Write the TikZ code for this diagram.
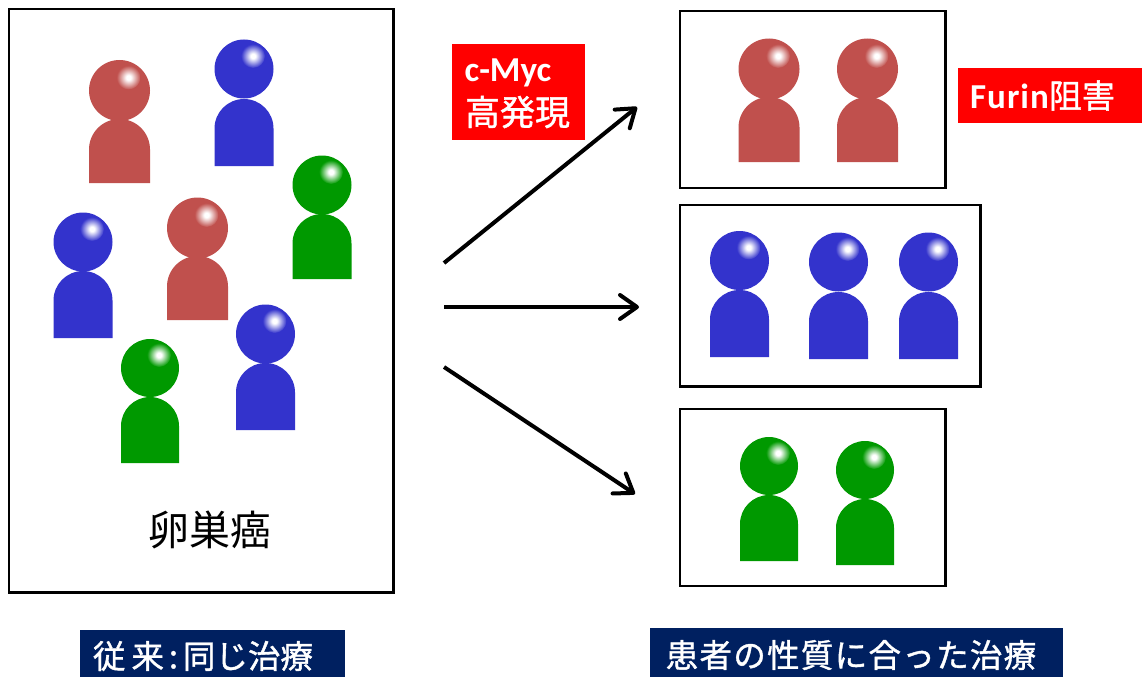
\documentclass[tikz,border=0pt]{standalone}
\usepackage{fontspec}
\setmainfont{Carlito}
\newfontfamily\jp{Noto Sans CJK JP}
\newfontfamily\jpm{Noto Sans CJK JP}[FakeBold=1.2]
\usetikzlibrary{arrows.meta}
\definecolor{pred}{HTML}{C0504D}
\definecolor{pblue}{HTML}{3333CC}
\definecolor{pgreen}{HTML}{009900}
\definecolor{navy}{HTML}{002060}
\definecolor{bred}{HTML}{FF0000}
\pgfdeclareradialshading{hlpred}{\pgfpointorigin}{color(0bp)=(white); color(5bp)=(white); color(25bp)=(pred); color(50bp)=(pred)}
\pgfdeclareradialshading{hlpblue}{\pgfpointorigin}{color(0bp)=(white); color(5bp)=(white); color(25bp)=(pblue); color(50bp)=(pblue)}
\pgfdeclareradialshading{hlpgreen}{\pgfpointorigin}{color(0bp)=(white); color(5bp)=(white); color(25bp)=(pgreen); color(50bp)=(pgreen)}
\tikzset{
  frame/.style={draw=black,line width=2.8pt,fill=white},
  flow/.style={draw=black,line width=4pt,-{Straight Barb[length=17pt,width=24pt,line width=4pt,round]}},
  redtag/.style={fill=bred,text=white,inner sep=0pt},
  navytag/.style={fill=navy,text=white,inner sep=0pt},
}
% cx, head cy, radius, body top, body bottom, half width, colour
\newcommand{\personfig}[7]{%
  \fill[#7] (#1,#2) circle[radius=#3];
  \shade[shading=hl#7] (#1+9,#2-13) circle[radius=12];
  \fill[#7] (#1-#6,#5) -- (#1-#6,#4+#6) arc[start angle=180,end angle=0,x radius=#6,y radius=-#6]
     -- (#1+#6,#5) -- cycle;
}
\begin{document}
\begin{tikzpicture}[x=1pt,y=-1pt]
\useasboundingbox (0,0) rectangle (1142,677);
\fill[white] (0,0) rectangle (1142,677);

\draw[frame] (9,9) rectangle (393.5,592.5);
\draw[frame] (680,11) rectangle (945.5,188);
\draw[frame] (680,205) rectangle (980.5,386.5);
\draw[frame] (680,409) rectangle (945.5,586);

\personfig{119.5}{90.5}{30.5}{119}{183}{30.5}{pred}
\personfig{244}{69}{29.5}{99}{166}{29.5}{pblue}
\personfig{322}{185}{29.5}{214}{279}{29.5}{pgreen}
\personfig{83}{242}{29.5}{271}{338}{29.5}{pblue}
\personfig{197.5}{228}{30.5}{256}{320}{30.5}{pred}
\personfig{265.5}{334}{29.5}{363}{430}{29.5}{pblue}
\personfig{150}{368}{29}{397}{463}{29}{pgreen}

\personfig{769}{69}{30.5}{97}{162}{30.5}{pred}
\personfig{867.5}{69}{30.5}{97}{162}{30.5}{pred}
\personfig{739.5}{260.5}{29.5}{290}{357}{29.5}{pblue}
\personfig{838.5}{262}{29.5}{292}{359}{29.5}{pblue}
\personfig{928.5}{262}{29.5}{292}{359}{29.5}{pblue}
\personfig{769}{466}{29}{495}{561}{29}{pgreen}
\personfig{865}{470}{29}{499}{565}{29}{pgreen}

\node[text=black,font=\jp\fontsize{41pt}{41pt}\selectfont] (ovary) at (210,530) {卵巣癌};

\node[redtag,minimum width=133pt,minimum height=96pt] (myc) at (518.5,92) {};
\node[text=white,font=\bfseries\fontsize{35pt}{35pt}\selectfont] (myct) at (508,73) {c-Myc};
\node[text=white,font=\jpm\fontsize{35pt}{35pt}\selectfont] (high) at (517.5,112) {高発現};

\node[redtag,minimum width=184pt,minimum height=55pt] (fur) at (1050,95.5) {};
\node[text=white,inner sep=0pt,font=\fontsize{35pt}{35pt}\selectfont] (furt) at (1042.5,95.5) {{\bfseries\addfontfeature{LetterSpace=3}Furin}{\jpm\fontsize{33pt}{33pt}\selectfont 阻害}};

\node[navytag,minimum width=265pt,minimum height=47pt] (left) at (212.5,653.5) {};
\node[text=white,font=\jpm\fontsize{32.5pt}{32.5pt}\selectfont] (leftt) at (203,656) {従\hspace{6pt}来\hspace{5pt}:\hspace{5pt}同じ治療};
\node[navytag,minimum width=413pt,minimum height=49pt] (right) at (856.5,652.5) {};
\node[text=white,font=\jpm\fontsize{32.5pt}{32.5pt}\selectfont\addfontfeature{LetterSpace=4}] (rightt) at (851,655) {患者の性質に合った治療};

\coordinate (a1) at (444,263);
\coordinate (b1) at (637,107);
\coordinate (a2) at (444,307);
\coordinate (b2) at (639,307);
\coordinate (a3) at (444,367);
\coordinate (b3) at (635,494);
\draw[flow] (a1) -- (b1);
\draw[flow] (a2) -- (b2);
\draw[flow] (a3) -- (b3);
\end{tikzpicture}
\end{document}
